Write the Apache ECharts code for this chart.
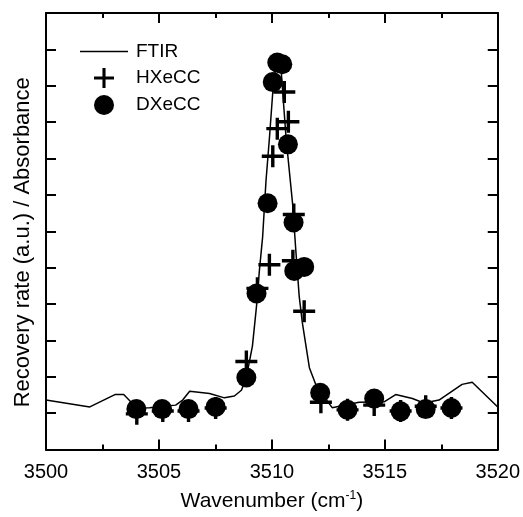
<!DOCTYPE html>
<html>
<head>
<meta charset="utf-8">
<script src="https://cdn.jsdelivr.net/npm/echarts@6/dist/echarts.min.js"></script>
<style>
  html, body { margin: 0; padding: 0; background: #fff; }
  #main { width: 523px; height: 517px; }
</style>
</head>
<body>
<div id="main"></div>
<script>
// FTIR spectrum (wavenumber, absorbance)
var ftirX = [3500.00, 3501.94, 3503.05, 3503.44, 3504.02, 3504.59, 3505.74, 3506.05, 3506.36, 3507.24,
  3507.90, 3508.34, 3508.65, 3508.87, 3509.14, 3509.32, 3509.45, 3509.59, 3509.74, 3509.89,
  3510.04, 3510.20, 3510.38, 3510.48, 3510.63, 3510.92, 3511.07, 3511.21, 3511.35, 3511.66,
  3511.96, 3512.19, 3512.67, 3513.86, 3514.97, 3515.48, 3516.22, 3516.73, 3517.40, 3518.42,
  3518.87, 3520.00];
var ftirY = [1.36, 1.17, 1.51, 1.51, 1.14, 1.15, 1.22, 1.36, 1.60, 1.54,
  1.42, 1.47, 1.63, 1.98, 2.85, 3.94, 4.94, 5.84, 7.39, 8.55,
  9.83, 10.67, 10.67, 9.83, 8.55, 6.74, 5.38, 4.21, 3.48, 2.25,
  1.76, 1.55, 1.15, 1.30, 1.31, 1.51, 1.40, 1.28, 1.36, 1.79,
  1.85, 1.17];

// HXeCC recovery rate
var hX = [3504.02, 3505.17, 3506.31, 3507.51, 3508.87, 3509.36, 3509.89, 3510.04, 3510.24, 3510.55,
  3510.73, 3510.93, 3510.97, 3511.43, 3512.17, 3513.35, 3514.53, 3515.70, 3516.81, 3517.95];
var hY = [0.98, 1.06, 1.06, 1.14, 2.42, 4.43, 5.08, 8.06, 8.82, 9.83,
  9.01, 5.19, 6.46, 3.80, 1.30, 1.09, 1.22, 1.06, 1.19, 1.14];

// DXeCC recovery rate
var dX = [3504.00, 3505.14, 3506.31, 3507.51, 3508.87, 3509.32, 3509.81, 3510.04, 3510.24, 3510.46,
  3510.71, 3510.96, 3510.99, 3511.43, 3512.14, 3513.35, 3514.53, 3515.70, 3516.81, 3517.95];
var dY = [1.11, 1.11, 1.11, 1.17, 1.98, 4.29, 6.77, 10.10, 10.64, 10.59,
  8.39, 6.24, 4.91, 5.02, 1.56, 1.09, 1.40, 1.05, 1.11, 1.14];

function pairs(xs, ys) {
  return xs.map(function (x, i) { return [x, ys[i]]; });
}

var font = 'Liberation Sans, Arial, sans-serif';
var plus = 'path://M9.3,0H12.7V9.3H22V12.7H12.7V22H9.3V12.7H0V9.3H9.3Z';

var tick = { show: true, inside: true, length: 10, lineStyle: { color: '#000', width: 2 } };
var minor = { show: true, splitNumber: 2, length: 5, lineStyle: { color: '#000', width: 2 } };
var line = { show: true, onZero: false, lineStyle: { color: '#000', width: 2 } };

var chart = echarts.init(document.getElementById('main'));
chart.setOption({
  backgroundColor: '#fff',
  animation: false,
  grid: { left: 46, right: 24, top: 13, bottom: 62 },
  legend: {
    orient: 'vertical',
    left: 80,
    top: 42,
    padding: 0,
    itemWidth: 48,
    itemHeight: 20,
    itemGap: 7,
    textStyle: { color: '#000', fontSize: 19, fontFamily: font, padding: [0, 0, 0, 3] },
    data: [
      { name: 'FTIR', icon: 'path://M0,0H48V1.5H0Z' },
      { name: 'HXeCC' },
      { name: 'DXeCC' }
    ]
  },
  xAxis: [{
    type: 'value', min: 3500, max: 3520, interval: 5, position: 'bottom',
    axisLine: line, axisTick: tick, minorTick: minor,
    splitLine: { show: false },
    axisLabel: {
      color: '#000', fontSize: 20, fontFamily: font, margin: 13,
      formatter: function (v) { return String(v); }
    },
    name: '{n|Wavenumber (cm}{s|-1}{n|)}',
    nameLocation: 'middle',
    nameGap: 40,
    nameTextStyle: {
      rich: {
        n: { fontSize: 21, fontFamily: font, color: '#000', lineHeight: 24 },
        s: { fontSize: 12, fontFamily: font, color: '#000', verticalAlign: 'top', lineHeight: 12 }
      }
    }
  }, {
    type: 'value', min: 3500, max: 3520, interval: 5, position: 'top',
    axisLine: line, axisTick: tick, minorTick: minor,
    splitLine: { show: false }, axisLabel: { show: false }
  }],
  yAxis: [{
    type: 'value', min: 0, max: 12, interval: 1, position: 'left',
    axisLine: line, axisTick: tick,
    splitLine: { show: false }, axisLabel: { show: false },
    name: 'Recovery rate (a.u.) / Absorbance',
    nameLocation: 'middle',
    nameGap: 12,
    nameTextStyle: { color: '#000', fontSize: 22, fontFamily: font, padding: [0, 22, 0, 0] }
  }, {
    type: 'value', min: 0, max: 12, interval: 1, position: 'right',
    axisLine: line, axisTick: tick,
    splitLine: { show: false }, axisLabel: { show: false }
  }],
  series: [{
    name: 'FTIR',
    type: 'line',
    data: pairs(ftirX, ftirY),
    symbol: 'none',
    lineStyle: { color: '#000', width: 1.5 },
    itemStyle: { color: '#000' },
    z: 1
  }, {
    name: 'HXeCC',
    type: 'scatter',
    data: pairs(hX, hY),
    symbol: plus,
    symbolSize: 22,
    itemStyle: { color: '#000', opacity: 1 },
    z: 2
  }, {
    name: 'DXeCC',
    type: 'scatter',
    data: pairs(dX, dY),
    symbol: 'circle',
    symbolSize: 20,
    itemStyle: { color: '#000', opacity: 1 },
    z: 3
  }]
});
</script>
</body>
</html>
